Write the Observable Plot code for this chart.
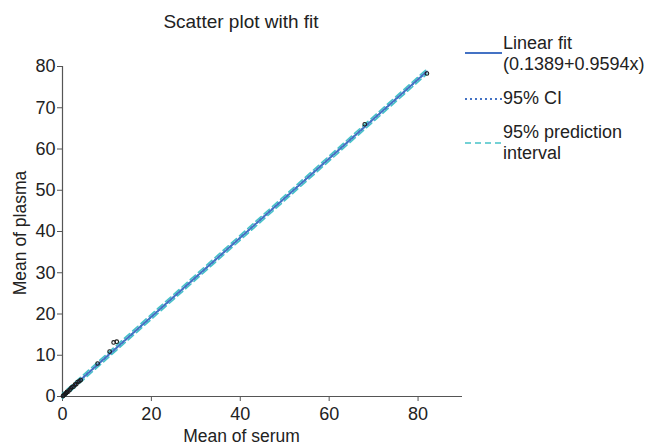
<!DOCTYPE html>
<html>
<head>
<meta charset="utf-8">
<script src="https://cdn.jsdelivr.net/npm/d3@7"></script>
<script src="https://cdn.jsdelivr.net/npm/@observablehq/plot@0.6"></script>
<style>
  body { margin: 0; background: #fff; font-family: "Liberation Sans", Arial, sans-serif; }
  #wrap { position: relative; width: 649px; height: 446px; }
  .lbl { position: absolute; color: #222; font-size: 17.5px; white-space: nowrap; line-height: 21px; }
  .leg { position: absolute; left: 503px; color: #222; font-size: 18px; line-height: 21px; white-space: nowrap; }
</style>
</head>
<body>
<div id="wrap"></div>
<script>
// ---- data ----
const title = "Scatter plot with fit";
const xLabel = "Mean of serum";
const yLabel = "Mean of plasma";
const xTicks = [0, 20, 40, 60, 80];
const yTicks = [0, 10, 20, 30, 40, 50, 60, 70, 80];
const serum  = [0.1, 0.3, 0.5, 0.8, 1.0, 1.3, 1.6, 1.9, 2.2, 2.5, 2.8, 3.1, 3.4, 3.8, 4.1, 7.9, 10.6, 11.5, 12.2, 68, 82];
const plasma = [0.1, 0.3, 0.5, 0.8, 1.1, 1.2, 1.6, 2.0, 2.3, 2.4, 2.9, 3.0, 3.5, 3.7, 4.0, 8.0, 10.9, 13.1, 13.3, 66, 78.3];
const intercept = 0.1389;
const slope = 0.9594;
const lineX = [0, 82];
const ciLower = [0.0, 78.65];
const ciUpper = [0.28, 78.95];
const piLower = [-0.45, 78.2];
const piUpper = [0.75, 79.4];
const legendLabels = [["Linear fit", "(0.1389+0.9594x)"], ["95% CI"], ["95% prediction", "interval"]];

// ---- build tables ----
const points = serum.map((s, i) => ({x: s, y: plasma[i]}));
const fit = lineX.map(x => ({x, y: intercept + slope * x}));
const ciLo = lineX.map((x, i) => ({x, y: ciLower[i]}));
const ciHi = lineX.map((x, i) => ({x, y: ciUpper[i]}));
const piLo = lineX.map((x, i) => ({x, y: piLower[i]}));
const piHi = lineX.map((x, i) => ({x, y: piUpper[i]}));

const blue = "#4472c4";
const teal = "#45c2c8";

const chart = Plot.plot({
  width: 649,
  height: 446,
  marginLeft: 62,
  marginRight: 187,
  marginTop: 66,
  marginBottom: 50,
  style: {fontFamily: "Liberation Sans, Arial, sans-serif", fontSize: "18px", color: "#222", background: "#fff"},
  x: {domain: [0, 90], ticks: xTicks, label: null},
  y: {domain: [0, 80], ticks: yTicks, label: null},
  marks: [
    Plot.axisX({ticks: xTicks, tickSize: 5, tickPadding: 6, label: null, stroke: "#555", fill: "#222", fontSize: 18}),
    Plot.axisY({ticks: yTicks, tickSize: 5, tickPadding: 2, label: null, stroke: "#555", fill: "#222", fontSize: 18}),
    Plot.ruleY([0], {stroke: "#555", strokeWidth: 1.2}),
    Plot.ruleX([0], {stroke: "#555", strokeWidth: 1.2}),
    Plot.line(piLo, {x: "x", y: "y", stroke: teal, strokeWidth: 1.6, strokeDasharray: "7,4"}),
    Plot.line(piHi, {x: "x", y: "y", stroke: teal, strokeWidth: 1.6, strokeDasharray: "7,4", strokeDashoffset: 5}),
    Plot.line(fit, {x: "x", y: "y", stroke: blue, strokeWidth: 1.8}),
    Plot.line(ciLo, {x: "x", y: "y", stroke: blue, strokeWidth: 1.2, strokeDasharray: "2,2"}),
    Plot.line(ciHi, {x: "x", y: "y", stroke: blue, strokeWidth: 1.2, strokeDasharray: "2,2"}),
    Plot.dot(points, {x: "x", y: "y", r: 1.8, stroke: "#1a1a1a", fill: "none", strokeWidth: 1.1})
  ]
});
const wrap = document.getElementById("wrap");
chart.style.position = "absolute";
chart.style.left = "0px";
chart.style.top = "0px";
wrap.appendChild(chart);

function addDiv(cls, text, css) {
  const d = document.createElement("div");
  d.className = cls;
  d.textContent = text;
  Object.assign(d.style, css);
  wrap.appendChild(d);
  return d;
}
// title
addDiv("lbl", title, {left: "0px", width: "482px", textAlign: "center", top: "11px", fontSize: "19px"});
// x label
addDiv("lbl", xLabel, {left: "0px", width: "483px", textAlign: "center", top: "426px"});
// y label
addDiv("lbl", yLabel, {left: "20px", top: "233px", transform: "translate(-50%, -50%) rotate(-90deg)"});

// legend
const legTops = [33, 88, 122];
legendLabels.forEach((lines, i) => {
  const d = document.createElement("div");
  d.className = "leg";
  d.style.top = legTops[i] + "px";
  d.innerHTML = lines.join("<br>");
  wrap.appendChild(d);
});
// legend swatches
const swY = [53, 99, 143];
const sw = [
  {y: swY[0], stroke: blue, dash: null, w: 2.2},
  {y: swY[1], stroke: blue, dash: "2,3", w: 2},
  {y: swY[2], stroke: teal, dash: "6,4", w: 1.4}
];
const svgNS = "http://www.w3.org/2000/svg";
const legSvg = document.createElementNS(svgNS, "svg");
legSvg.setAttribute("width", 649);
legSvg.setAttribute("height", 446);
legSvg.style.position = "absolute";
legSvg.style.left = "0px";
legSvg.style.top = "0px";
legSvg.style.pointerEvents = "none";
sw.forEach(s => {
  const l = document.createElementNS(svgNS, "line");
  l.setAttribute("x1", 465); l.setAttribute("x2", 502);
  l.setAttribute("y1", s.y); l.setAttribute("y2", s.y);
  l.setAttribute("stroke", s.stroke);
  l.setAttribute("stroke-width", s.w);
  if (s.dash) l.setAttribute("stroke-dasharray", s.dash);
  legSvg.appendChild(l);
});
wrap.appendChild(legSvg);
</script>
</body>
</html>
